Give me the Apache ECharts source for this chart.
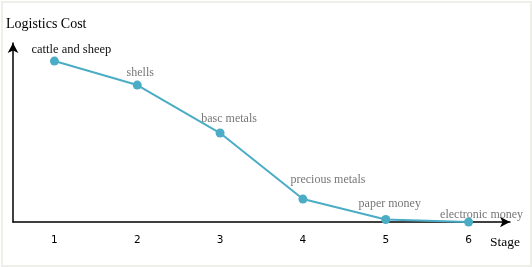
<!DOCTYPE html>
<html><head><meta charset="utf-8">
<script src="https://cdn.jsdelivr.net/npm/echarts@6/dist/echarts.min.js"></script>
<style>
html,body{margin:0;padding:0;background:#fff;}
#frame{position:absolute;left:1px;top:1px;width:527px;height:262px;border:2px solid #efefe9;box-sizing:content-box;}
#c{position:absolute;left:0;top:0;width:532px;height:267px;}
</style></head>
<body><div id="frame"></div><div id="c"></div>
<script>
var stages = [1, 2, 3, 4, 5, 6];
var costs = [89.9, 76.5, 49.7, 12.8, 1.4, 0];
var names = ['cattle and sheep', 'shells', 'basc metals', 'precious metals', 'paper money', 'electronic money'];
var labelOffsets = [[17, 5], [3, 3], [9, 1], [25, -4], [4, 0], [13, 8]];
var labelColors = ['#111', '#777', '#777', '#777', '#777', '#777'];
var labelSizes = [12.5, 12, 12, 12, 12, 12];

var chart = echarts.init(document.getElementById('c'), null, {renderer: 'canvas'});
var data = stages.map(function (s, i) {
  return {
    value: [s, costs[i]],
    label: {show: true, formatter: names[i], offset: labelOffsets[i], color: labelColors[i], fontSize: labelSizes[i]}
  };
});
chart.setOption({
  animation: false,
  grid: {left: 13, right: 22, top: 43, bottom: 45},
  xAxis: {
    type: 'value', min: 0.5, max: 6.5, interval: 0.5,
    name: 'Stage', nameLocation: 'end', nameGap: 0,
    nameTextStyle: {fontFamily: 'Liberation Serif', fontSize: 13.5, color: '#000', align: 'left', verticalAlign: 'top', padding: [13, 0, 0, -20]},
    axisLine: {show: true, symbol: ['none', 'arrow'], symbolSize: [8, 10], lineStyle: {color: '#000', width: 1.5}},
    axisTick: {show: false},
    splitLine: {show: false},
    axisLabel: {
      margin: 13, fontFamily: 'DejaVu Sans', fontSize: 10.5, color: '#000',
      formatter: function (v) { return stages.indexOf(v) >= 0 ? String(v) : ''; }
    }
  },
  yAxis: {
    type: 'value', min: 0, max: 100,
    name: 'Logistics Cost', nameLocation: 'end', nameGap: 12,
    nameTextStyle: {fontFamily: 'Liberation Serif', fontSize: 14, color: '#000', align: 'left', padding: [0, 0, 0, -7]},
    axisLine: {show: true, symbol: ['none', 'arrow'], symbolSize: [8, 10], lineStyle: {color: '#000', width: 1.5}},
    axisTick: {show: false},
    splitLine: {show: false},
    axisLabel: {show: false}
  },
  series: [{
    type: 'line',
    data: data,
    symbol: 'circle', symbolSize: 9,
    itemStyle: {color: '#4bacc6'},
    lineStyle: {color: '#4bacc6', width: 2},
    label: {position: 'top', fontFamily: 'Liberation Serif', fontSize: 12}
  }]
});
</script></body></html>
